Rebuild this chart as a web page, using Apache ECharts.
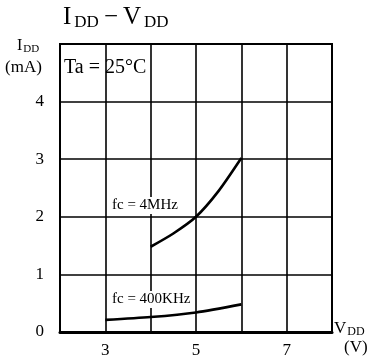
<!DOCTYPE html>
<html>
<head>
<meta charset="utf-8">
<script src="https://cdn.jsdelivr.net/npm/echarts@6/dist/echarts.min.js"></script>
<style>
  html, body { margin: 0; padding: 0; background: #fff; }
  #chart { width: 382px; height: 364px; }
</style>
</head>
<body>
<div id="chart"></div>
<script>
// Supply current vs. supply voltage, Ta = 25°C
var vddTicks = [3, 5, 7];
var iddTicks = [0, 1, 2, 3, 4];

var vdd4MHz = [4, 4.5, 5, 5.5, 6];
var idd4MHz = [1.48, 1.71, 2.0, 2.45, 3.02];

var vdd400kHz = [3, 4, 5, 6];
var idd400kHz = [0.21, 0.26, 0.34, 0.48];

function pairs(xs, ys) {
  return xs.map(function (x, i) { return [x, ys[i]]; });
}

var serif = '"Liberation Serif", "DejaVu Serif", serif';
var chart = echarts.init(document.getElementById('chart'), null, { renderer: 'canvas' });

chart.setOption({
  animation: false,
  backgroundColor: '#fff',
  grid: {
    left: 60, right: 50, top: 44, bottom: 32,
    show: true, borderColor: '#000', borderWidth: 2, backgroundColor: 'transparent'
  },
  xAxis: {
    type: 'value', min: 2, max: 8, interval: 1,
    axisLine: { show: true, onZero: false, lineStyle: { color: '#000', width: 3 } },
    axisTick: { show: false },
    splitLine: { show: true, lineStyle: { color: '#000', width: 1.6 } },
    axisLabel: {
      color: '#000', fontFamily: serif, fontSize: 17, margin: 10,
      formatter: function (v) { return vddTicks.indexOf(v) >= 0 ? String(v) : ''; }
    }
  },
  yAxis: {
    type: 'value', min: 0, max: 5, interval: 1,
    axisLine: { show: true, lineStyle: { color: '#000', width: 2 } },
    axisTick: { show: false },
    splitLine: { show: true, lineStyle: { color: '#000', width: 1.6 } },
    axisLabel: {
      color: '#000', fontFamily: serif, fontSize: 17, margin: 16,
      formatter: function (v) { return iddTicks.indexOf(v) >= 0 ? String(v) : ''; }
    }
  },
  series: [
    {
      name: 'fc = 4MHz', type: 'line', smooth: 0.25, showSymbol: false,
      lineStyle: { color: '#000', width: 2.6 },
      data: pairs(vdd4MHz, idd4MHz)
    },
    {
      name: 'fc = 400KHz', type: 'line', smooth: 0.25, showSymbol: false,
      lineStyle: { color: '#000', width: 2.6 },
      data: pairs(vdd400kHz, idd400kHz)
    }
  ],
  graphic: [
    {
      type: 'text', left: 63, top: 5,
      style: {
        text: 'I{s|DD}{m|−}V{s|DD}',
        fontFamily: serif, fontSize: 25, fill: '#000',
        rich: {
          s: { fontFamily: serif, fontSize: 17, fill: '#000', padding: [10, 0, 0, 3] },
          m: { fontFamily: serif, fontSize: 25, fill: '#000', padding: [0, 5, 0, 5] }
        }
      }
    },
    {
      type: 'text', left: 17, top: 38,
      style: {
        text: 'I{s|DD}', fontFamily: serif, fontSize: 16, fill: '#000',
        rich: { s: { fontFamily: serif, fontSize: 11, fill: '#000', padding: [6, 0, 0, 1] } }
      }
    },
    {
      type: 'text', left: 5, top: 59,
      style: { text: '(mA)', fontFamily: serif, fontSize: 17, fill: '#000' }
    },
    {
      type: 'text', left: 64, top: 58,
      style: { text: 'Ta = 25°C', fontFamily: serif, fontSize: 20, fill: '#000' }
    },
    {
      type: 'text', left: 111, top: 197, z: 10,
      style: {
        text: 'fc = 4MHz', fontFamily: serif, fontSize: 15, fill: '#000',
        backgroundColor: '#fff', padding: [1, 2, 1, 1]
      }
    },
    {
      type: 'text', left: 111, top: 291, z: 10,
      style: {
        text: 'fc = 400KHz', fontFamily: serif, fontSize: 15, fill: '#000',
        backgroundColor: '#fff', padding: [1, 2, 1, 1]
      }
    },
    {
      type: 'text', left: 334, top: 320,
      style: {
        text: 'V{s|DD}', fontFamily: serif, fontSize: 17, fill: '#000',
        rich: { s: { fontFamily: serif, fontSize: 12, fill: '#000', padding: [6, 0, 0, 1] } }
      }
    },
    {
      type: 'text', left: 344, top: 339,
      style: { text: '(V)', fontFamily: serif, fontSize: 17, fill: '#000' }
    }
  ]
});
</script>
</body>
</html>
